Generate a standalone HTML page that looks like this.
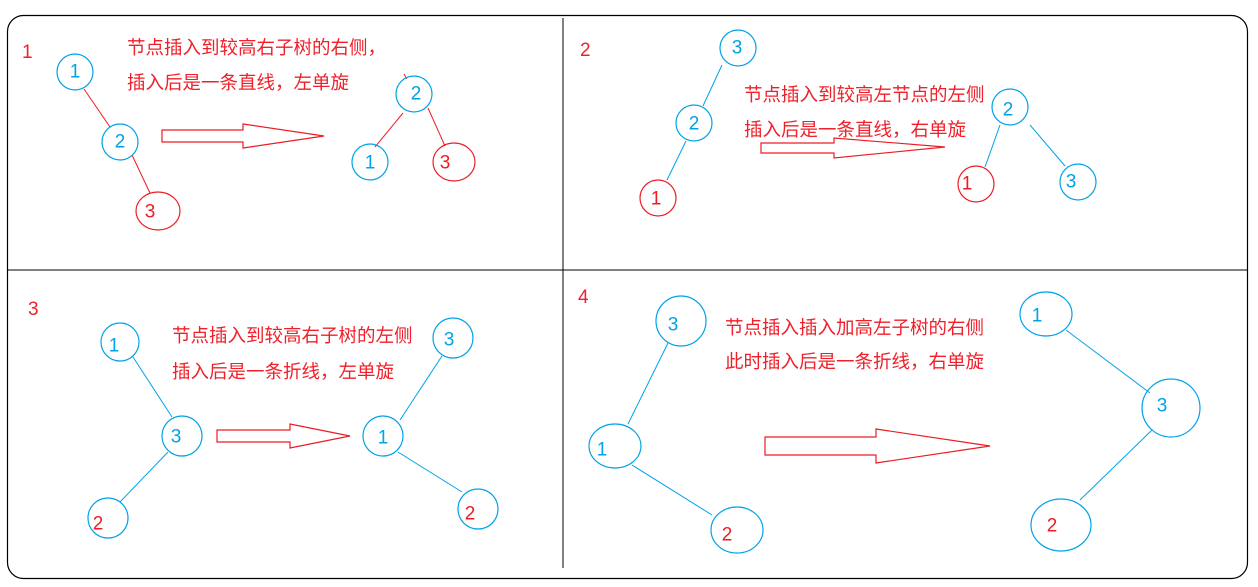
<!DOCTYPE html>
<html><head><meta charset="utf-8"><style>
html,body{margin:0;padding:0;background:#fff;}
svg{display:block;}
text{font-family:"Liberation Sans","Noto Sans CJK SC",sans-serif;}
.t{fill:#f0202a;font-size:18.5px;}
.p{fill:#f0202a;font-size:19px;}
.n{font-size:19px;text-anchor:middle;dominant-baseline:central;}
.b{fill:#00a2e8;}
.r{fill:#ed1c24;}
.cb{fill:none;stroke:#00a2e8;stroke-width:1.2;}
.cr{fill:none;stroke:#ed1c24;stroke-width:1.2;}
.lb{stroke:#00a2e8;stroke-width:1;}
.lr{stroke:#ed1c24;stroke-width:1;}
.ar{fill:none;stroke:#ed1c24;stroke-width:1.2;}
</style></head><body>
<svg width="1258" height="587" xmlns="http://www.w3.org/2000/svg">
<rect x="7.5" y="15.5" width="1240" height="563" rx="16" fill="none" stroke="#000" stroke-width="1.2"/>
<line x1="563" y1="18" x2="563" y2="568" stroke="#000" stroke-width="1"/>
<line x1="7" y1="270" x2="1248" y2="270" stroke="#000" stroke-width="1"/>

<!-- panel 1 -->
<text x="22" y="58" class="p">1</text>
<text x="127" y="54" class="t">节点插入到较高右子树的右侧，</text>
<text x="127" y="89" class="t">插入后是一条直线，左单旋</text>
<line x1="84" y1="89" x2="110" y2="127" class="lr"/>
<line x1="132" y1="155" x2="150" y2="193" class="lr"/>
<circle cx="75" cy="72" r="18" class="cb"/><text x="75" y="72" class="n b">1</text>
<circle cx="120" cy="142" r="18" class="cb"/><text x="120" y="142" class="n b">2</text>
<ellipse cx="158" cy="211" rx="22" ry="19" class="cr"/><text x="150" y="212" class="n r">3</text>
<polygon points="162,130 243,130 243,124 324,136 243,148 243,142 162,142" class="ar"/>
<line x1="403" y1="113" x2="375" y2="147" class="lr"/>
<line x1="428" y1="108" x2="445" y2="146" class="lr"/>
<line x1="404" y1="74" x2="407" y2="79" class="lr"/>
<circle cx="414" cy="94" r="18" class="cb"/><text x="416" y="94" class="n b">2</text>
<circle cx="370" cy="162" r="18" class="cb"/><text x="370" y="163" class="n b">1</text>
<ellipse cx="454" cy="162" rx="21" ry="19" class="cr"/><text x="445" y="163" class="n r">3</text>

<!-- panel 2 -->
<text x="580" y="56" class="p">2</text>
<line x1="722" y1="65" x2="703" y2="106" class="lb"/>
<line x1="686" y1="141" x2="667" y2="180" class="lb"/>
<circle cx="738" cy="48" r="18" class="cb"/><text x="737" y="48" class="n b">3</text>
<circle cx="694" cy="123" r="18" class="cb"/><text x="694" y="124" class="n b">2</text>
<circle cx="658" cy="198" r="18" class="cr"/><text x="656" y="199" class="n r">1</text>
<text x="744" y="101" class="t">节点插入到较高左节点的左侧</text>
<text x="744" y="136" class="t">插入后是一条直线，右单旋</text>
<polygon points="761,143 834,143 834,138 945,147 834,158 834,153 761,153" class="ar"/>
<line x1="1000" y1="125" x2="985" y2="167" class="lb"/>
<line x1="1030" y1="125" x2="1065" y2="166" class="lb"/>
<circle cx="1010" cy="107" r="18" class="cb"/><text x="1008" y="110" class="n b">2</text>
<circle cx="976" cy="184" r="18" class="cr"/><text x="967" y="184" class="n r">1</text>
<circle cx="1078" cy="182" r="18" class="cb"/><text x="1071" y="182" class="n b">3</text>

<!-- panel 3 -->
<text x="28" y="315" class="p">3</text>
<text x="172" y="342" class="t">节点插入到较高右子树的左侧</text>
<text x="172" y="378" class="t">插入后是一条折线，左单旋</text>
<line x1="133" y1="357" x2="172" y2="417" class="lb"/>
<line x1="168" y1="452" x2="120" y2="502" class="lb"/>
<circle cx="120" cy="342" r="19" class="cb"/><text x="114" y="346" class="n b">1</text>
<circle cx="182" cy="436" r="20" class="cb"/><text x="176" y="437" class="n b">3</text>
<circle cx="108" cy="518" r="20" class="cb"/><text x="98" y="524" class="n r">2</text>
<polygon points="217,430 290,430 290,424 350,436 290,448 290,442 217,442" class="ar"/>
<line x1="442" y1="356" x2="400" y2="420" class="lb"/>
<line x1="398" y1="452" x2="462" y2="492" class="lb"/>
<circle cx="453" cy="338" r="20" class="cb"/><text x="449" y="340" class="n b">3</text>
<circle cx="383" cy="436" r="20" class="cb"/><text x="383" y="438" class="n b">1</text>
<circle cx="478" cy="509" r="20" class="cb"/><text x="470" y="514" class="n r">2</text>

<!-- panel 4 -->
<text x="578" y="303" class="p">4</text>
<text x="725" y="334" class="t">节点插入插入加高左子树的右侧</text>
<text x="725" y="368" class="t">此时插入后是一条折线，右单旋</text>
<line x1="668" y1="343" x2="628" y2="424" class="lb"/>
<line x1="632" y1="465" x2="712" y2="515" class="lb"/>
<circle cx="681" cy="321" r="25" class="cb"/><text x="673" y="325" class="n b">3</text>
<ellipse cx="615" cy="446" rx="26" ry="22" class="cb"/><text x="602" y="450" class="n b">1</text>
<ellipse cx="737" cy="530" rx="26" ry="23" class="cb"/><text x="727" y="535" class="n r">2</text>
<polygon points="765,437 876,437 876,429 990,446 876,463 876,455 765,455" class="ar"/>
<line x1="1066" y1="330" x2="1150" y2="393" class="lb"/>
<line x1="1152" y1="430" x2="1080" y2="500" class="lb"/>
<ellipse cx="1046" cy="314" rx="26" ry="22" class="cb"/><text x="1037" y="316" class="n b">1</text>
<circle cx="1171" cy="408" r="29" class="cb"/><text x="1162" y="406" class="n b">3</text>
<ellipse cx="1061" cy="525" rx="30" ry="26" class="cb"/><text x="1052" y="526" class="n r">2</text>
</svg>
</body></html>
